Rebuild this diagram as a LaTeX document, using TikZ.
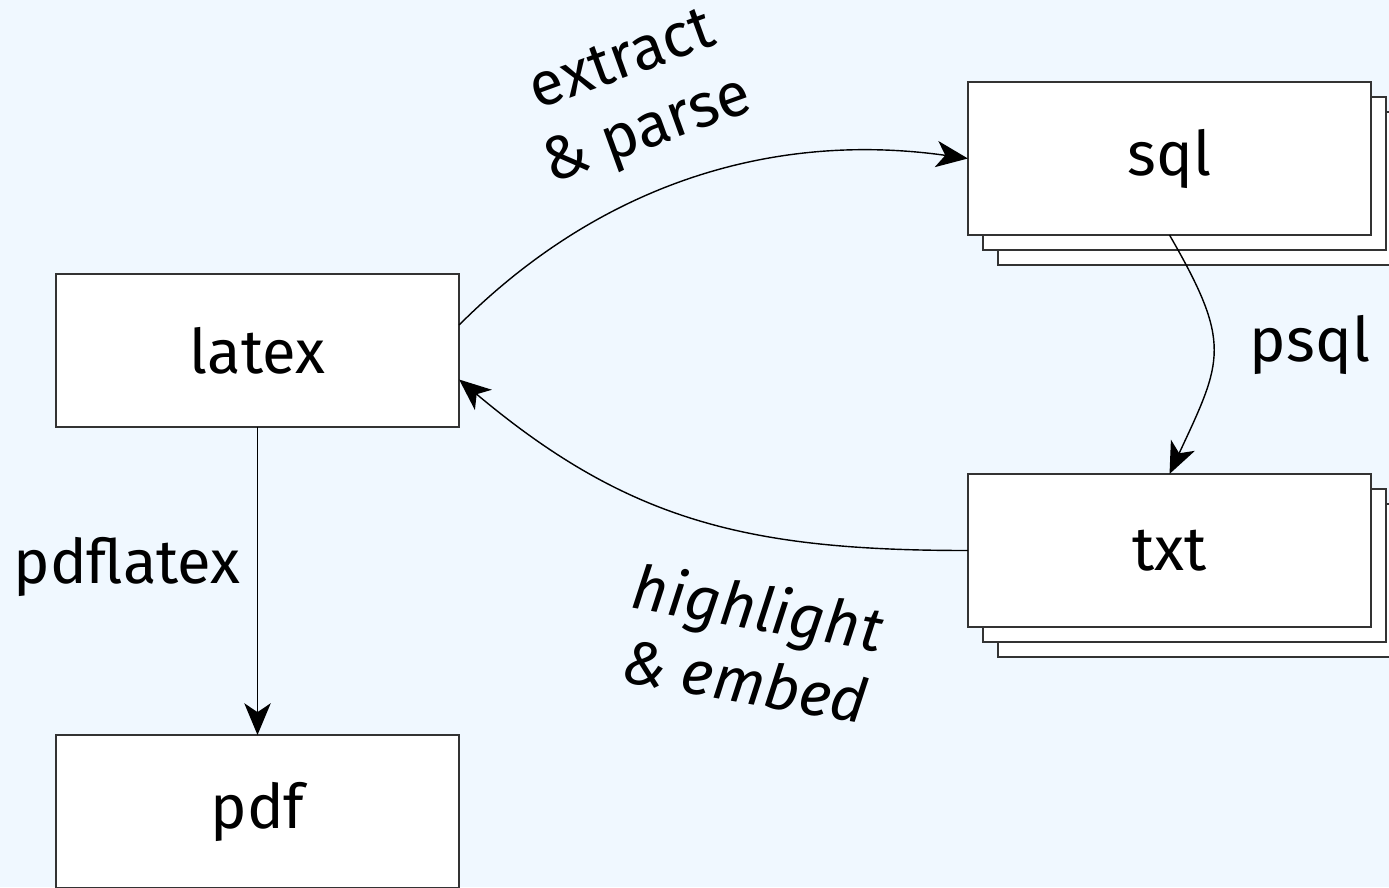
\documentclass[tikz,border=0pt]{standalone}
\usepackage{fontspec}
\setmainfont{Fira Sans}
\usetikzlibrary{arrows.meta,shadows}
\definecolor{bgblue}{HTML}{F0F8FF}
\definecolor{boxline}{HTML}{333333}
\tikzset{
  box/.style={draw=boxline, fill=white, line width=0.5pt, minimum width=4.03cm, minimum height=1.53cm, inner sep=0pt, outer sep=0pt, font=\fontsize{17.5}{21}\selectfont},
  stackbox/.style={box, double copy shadow={shadow xshift=0.15cm, shadow yshift=-0.15cm}},
  conn/.style={draw=black, line width=0.4pt, -{Stealth[length=9pt,width=7.5pt,inset=2.5pt]}},
  lbl/.style={font=\fontsize{17.5}{21}\selectfont, align=center, inner sep=0pt}
}
\begin{document}
\begin{tikzpicture}[x=0.01cm,y=0.01cm]
\fill[bgblue] (0,0) rectangle (1389,887);
\useasboundingbox (0,0) rectangle (1389,887);
\node[box] (latex) at (257.5,536.5) {latex};
\node[box] (pdf) at (257.5,75.5) {pdf};
\node[stackbox] (sql) at (1169.5,728.5) {sql};
\node[stackbox] (txt) at (1169.5,336.5) {txt};
\coordinate (lo) at ([yshift=0.255cm]latex.east);
\coordinate (li) at ([yshift=-0.29cm]latex.east);
\draw[conn] (lo) to[out=45,in=172,looseness=0.95] (sql.west);
\draw[conn] (sql.south) to[out=-60,in=65,looseness=1.35] (txt.north);
\draw[conn] (txt.west) to[out=180,in=-40,looseness=1.05] (li);
\draw[conn] (latex.south) -- (pdf.north);
\node[lbl, rotate=20] (l1) at (636,788) {extract\\\& parse};
\node[lbl] (l2) at (1310,542) {psql};
\node[lbl, rotate=-10, font=\fontsize{17.5}{21}\selectfont\itshape] (l3) at (752,244) {highlight\\\& embed};
\node[lbl] (l4) at (127,320) {pdflatex};
\end{tikzpicture}
\end{document}
